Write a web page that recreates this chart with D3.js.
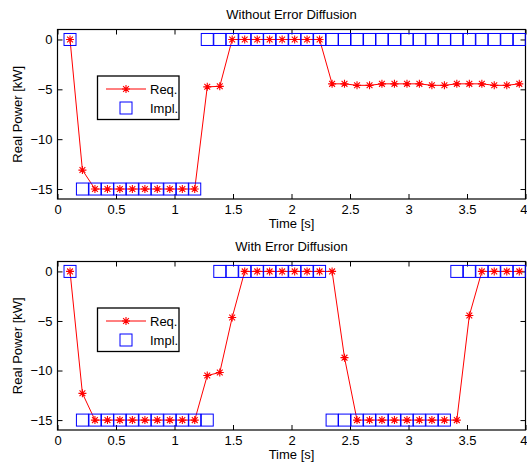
<!DOCTYPE html>
<html>
<head>
<meta charset="utf-8">
<script src="https://cdn.jsdelivr.net/npm/d3@7"></script>
<style>
  html, body { margin: 0; padding: 0; background: #fff; }
  svg { display: block; }
  text { font-family: "Liberation Sans", Arial, Helvetica, sans-serif; font-size: 13px; fill: #000; }
</style>
</head>
<body>
<svg id="chart" width="527" height="464"></svg>
<script>
// ---- data ----
const time = [0.107, 0.213, 0.32, 0.427, 0.533, 0.64, 0.747, 0.853, 0.96, 1.067,
  1.173, 1.28, 1.387, 1.493, 1.6, 1.707, 1.813, 1.92, 2.027, 2.133,
  2.24, 2.347, 2.453, 2.56, 2.667, 2.773, 2.88, 2.987, 3.093, 3.2,
  3.307, 3.413, 3.52, 3.627, 3.733, 3.84, 3.947];

const reqWithout = [0, -13.1, -15, -15, -15, -15, -15, -15, -15, -15,
  -15, -4.75, -4.7, 0, 0, 0, 0, 0, 0, 0,
  0, -4.45, -4.45, -4.6, -4.6, -4.45, -4.45, -4.45, -4.45, -4.6,
  -4.6, -4.45, -4.45, -4.45, -4.6, -4.6, -4.45];
const implWithout = [0, -15, -15, -15, -15, -15, -15, -15, -15, -15,
  -15, 0, 0, 0, 0, 0, 0, 0, 0, 0,
  0, 0, 0, 0, 0, 0, 0, 0, 0, 0,
  0, 0, 0, 0, 0, 0, 0];

const reqWith = [0, -12.3, -15, -15, -15, -15, -15, -15, -15, -15,
  -15, -10.5, -10.2, -4.65, 0, 0, 0, 0, 0, 0,
  0, 0, -8.7, -15, -15, -15, -15, -15, -15, -15,
  -15, -15, -4.45, 0, 0, 0, 0];
const implWith = [0, -15, -15, -15, -15, -15, -15, -15, -15, -15,
  -15, -15, 0, 0, 0, 0, 0, 0, 0, 0,
  0, -15, -15, -15, -15, -15, -15, -15, -15, -15,
  -15, 0, 0, 0, 0, 0, 0];

const xTicks = [0, 0.5, 1, 1.5, 2, 2.5, 3, 3.5, 4];
const yTicks = [0, -5, -10, -15];
const titles = ["Without Error Diffusion", "With Error Diffusion"];
const legendLabels = ["Req.", "Impl."];
const xLabel = "Time [s]";
const yLabel = "Real Power [kW]";

// ---- drawing ----
const svg = d3.select("#chart");
const left = 57.5, right = 525.5;

const panels = [
  { top: 29.5, bottom: 199, title: titles[0], req: reqWithout, impl: implWithout },
  { top: 261.5, bottom: 430, title: titles[1], req: reqWith, impl: implWith }
];

const starPath = "M-4,0L4,0M0,-4L0,4M-2.9,-2.9L2.9,2.9M-2.9,2.9L2.9,-2.9";

panels.forEach(p => {
  const x = d3.scaleLinear().domain([0, 4]).range([left, right]);
  const y = d3.scaleLinear().domain([-16, 1]).range([p.bottom, p.top]);
  const g = svg.append("g");

  // axes with inward ticks on all four sides
  const ax = g.append("g").attr("transform", `translate(0,${p.bottom})`)
    .call(d3.axisBottom(x).tickValues(xTicks).tickSize(-5).tickPadding(6).tickFormat(d => String(d)));
  const axT = g.append("g").attr("transform", `translate(0,${p.top})`)
    .call(d3.axisTop(x).tickValues(xTicks).tickSize(-5).tickFormat(""));
  const ay = g.append("g").attr("transform", `translate(${left},0)`)
    .call(d3.axisLeft(y).tickValues(yTicks).tickSize(-5).tickPadding(5));
  const ayR = g.append("g").attr("transform", `translate(${right},0)`)
    .call(d3.axisRight(y).tickValues(yTicks).tickSize(-5).tickFormat(""));
  [ax, axT, ay, ayR].forEach(a => {
    a.select(".domain").remove();
    a.selectAll("line").attr("stroke", "#000").attr("stroke-width", 1);
    a.selectAll("text").attr("font-size", 13).attr("font-family", "Liberation Sans, Arial, sans-serif").attr("fill", "#000");
  });
  // keep the last x label ("4") inside the picture
  ax.selectAll(".tick text").filter(d => d === 4).attr("text-anchor", "end").attr("x", 1.5);

  // box
  g.append("rect").attr("x", left).attr("y", p.top)
    .attr("width", right - left).attr("height", p.bottom - p.top)
    .attr("fill", "none").attr("stroke", "#000").attr("stroke-width", 1.2);

  // title
  g.append("text").attr("x", (left + right) / 2).attr("y", p.top - 11)
    .attr("text-anchor", "middle").text(p.title);
  // x label
  g.append("text").attr("x", (left + right) / 2).attr("y", p.bottom + 29)
    .attr("text-anchor", "middle").text(xLabel);
  // y label
  g.append("text").attr("transform", `translate(22,${(p.top + p.bottom) / 2}) rotate(-90)`)
    .attr("text-anchor", "middle").text(yLabel);

  // Req. line
  const line = d3.line().x((d, i) => x(time[i])).y(d => y(d));
  g.append("path").datum(p.req).attr("d", line)
    .attr("fill", "none").attr("stroke", "#ff0000").attr("stroke-width", 1);
  g.selectAll(".star").data(p.req).enter().append("path")
    .attr("transform", (d, i) => `translate(${x(time[i])},${y(d)})`)
    .attr("d", starPath).attr("fill", "none").attr("stroke", "#ff0000").attr("stroke-width", 1.1);

  // Impl. squares
  g.selectAll(".sq").data(p.impl).enter().append("rect")
    .attr("x", (d, i) => x(time[i]) - 6).attr("y", d => y(d) - 6)
    .attr("width", 12).attr("height", 12)
    .attr("fill", "none").attr("stroke", "#0000ff").attr("stroke-width", 1);

  // legend
  const lx = 97.5, ly = p.top + 46.5;
  const lg = g.append("g").attr("transform", `translate(${lx},${ly})`);
  lg.append("rect").attr("width", 81.5).attr("height", 43.5)
    .attr("fill", "#fff").attr("stroke", "#000").attr("stroke-width", 1.3);
  lg.append("line").attr("x1", 8.5).attr("x2", 48.5).attr("y1", 13).attr("y2", 13)
    .attr("stroke", "#ff0000").attr("stroke-width", 1);
  lg.append("path").attr("transform", "translate(28.5,13)").attr("d", starPath)
    .attr("fill", "none").attr("stroke", "#ff0000").attr("stroke-width", 1.1);
  lg.append("text").attr("x", 52.5).attr("y", 17.5).text(legendLabels[0]);
  lg.append("rect").attr("x", 22.5).attr("y", 26).attr("width", 12).attr("height", 12)
    .attr("fill", "none").attr("stroke", "#0000ff").attr("stroke-width", 1);
  lg.append("text").attr("x", 52.5).attr("y", 36.5).text(legendLabels[1]);
});
</script>
</body>
</html>
